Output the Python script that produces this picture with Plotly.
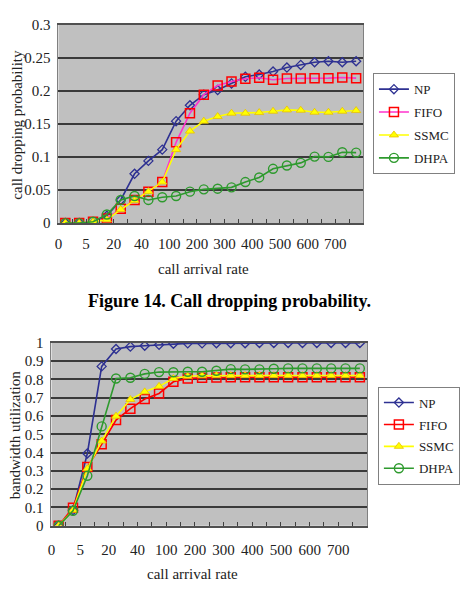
import plotly.graph_objects as go

# ---------------- data ----------------
tick_labels = ["0", "5", "20", "40", "100", "200", "300", "400", "500", "600", "700"]
n_points = 22
slots = [i + 0.5 for i in range(n_points)]  # category centres

drop_np = [0, 0, 0, 0.011, 0.035, 0.0745, 0.094, 0.111, 0.154, 0.178, 0.194, 0.201,
           0.211, 0.221, 0.2245, 0.229, 0.235, 0.239, 0.243, 0.2445, 0.243, 0.2445]
drop_fifo = [0, 0, 0.002, 0.007, 0.0215, 0.035, 0.0475, 0.062, 0.122, 0.166, 0.194, 0.208,
             0.214, 0.218, 0.2195, 0.2165, 0.2185, 0.2185, 0.219, 0.219, 0.220, 0.219]
drop_ssmc = [0, 0, 0.002, 0.005, 0.0205, 0.034, 0.0475, 0.062, 0.111, 0.139, 0.154, 0.161,
             0.166, 0.166, 0.167, 0.169, 0.171, 0.1705, 0.1675, 0.1675, 0.169, 0.170]
drop_dhpa = [0, 0, 0.002, 0.013, 0.035, 0.041, 0.035, 0.039, 0.041, 0.0475, 0.051, 0.052,
             0.054, 0.062, 0.069, 0.082, 0.087, 0.091, 0.1005, 0.100, 0.107, 0.1065]

bw_np = [0, 0.085, 0.395, 0.871, 0.966, 0.979, 0.984, 0.989, 0.995, 0.997, 0.997, 0.998,
         0.998, 0.998, 0.999, 0.999, 0.999, 0.999, 0.999, 0.999, 0.999, 0.999]
bw_fifo = [0, 0.099, 0.321, 0.445, 0.578, 0.640, 0.693, 0.723, 0.787, 0.805, 0.809, 0.811,
           0.812, 0.812, 0.812, 0.812, 0.812, 0.812, 0.812, 0.812, 0.812, 0.812]
bw_ssmc = [0, 0.085, 0.312, 0.463, 0.599, 0.690, 0.732, 0.762, 0.805, 0.817, 0.820, 0.821,
           0.821, 0.821, 0.821, 0.821, 0.821, 0.821, 0.821, 0.821, 0.821, 0.821]
bw_dhpa = [0, 0.082, 0.273, 0.543, 0.805, 0.809, 0.830, 0.840, 0.839, 0.842, 0.842, 0.847,
           0.856, 0.855, 0.855, 0.858, 0.860, 0.860, 0.860, 0.860, 0.860, 0.860]

series_names = ["NP", "FIFO", "SSMC", "DHPA"]

# ---------------- styles ----------------
NAVY = "#2E3192"
RED = "#FF0000"
MAGENTA = "#FF33CC"
YELLOW = "#FFFF00"
GREEN = "#2E9A2E"
SERIF = "Liberation Serif, Times New Roman, serif"

styles_top = {
    "NP": dict(line=dict(color=NAVY, width=1.6),
               marker=dict(symbol="diamond-open", size=7, color=NAVY, line=dict(width=1.3))),
    "FIFO": dict(line=dict(color=MAGENTA, width=1.6),
                 marker=dict(symbol="square-open", size=9, color=RED, line=dict(width=1.5))),
    "SSMC": dict(line=dict(color=YELLOW, width=1.6),
                 marker=dict(symbol="triangle-up", size=8, color=YELLOW, line=dict(color="#E8C000", width=0.8))),
    "DHPA": dict(line=dict(color=GREEN, width=1.6),
                 marker=dict(symbol="circle-open", size=9, color=GREEN, line=dict(width=1.4))),
}
styles_bot = dict(styles_top)
styles_bot["FIFO"] = dict(line=dict(color=RED, width=1.6),
                          marker=dict(symbol="square-open", size=9, color=RED, line=dict(width=1.5)))

fig = go.Figure()

top_data = [drop_np, drop_fifo, drop_ssmc, drop_dhpa]
bot_data = [bw_np, bw_fifo, bw_ssmc, bw_dhpa]

for name, ys in zip(series_names, top_data):
    fig.add_trace(go.Scatter(x=slots, y=ys, name=name, mode="lines+markers",
                             xaxis="x", yaxis="y", legend="legend",
                             legendgroup="t" + name, **styles_top[name]))
for name, ys in zip(series_names, bot_data):
    fig.add_trace(go.Scatter(x=slots, y=ys, name=name, mode="lines+markers",
                             xaxis="x2", yaxis="y2", legend="legend2",
                             legendgroup="b" + name, **styles_bot[name]))

tickfont = dict(family=SERIF, size=15, color="#222222")

def xaxis_cfg(domain, anchor, standoff):
    return dict(
        domain=domain, anchor=anchor, range=[0, n_points],
        tickvals=[2 * i for i in range(len(tick_labels))], ticktext=tick_labels,
        ticks="inside", ticklen=4, tickcolor="#404040",
        minor=dict(ticks="inside", dtick=1, tick0=0, ticklen=4, tickcolor="#404040"),
        showgrid=False, zeroline=False,
        showline=True, linecolor="#505050", linewidth=1.5, mirror=True,
        tickfont=tickfont, ticklabelstandoff=standoff, fixedrange=True,
    )

def yaxis_cfg(domain, anchor, rng, dtick):
    return dict(
        domain=domain, anchor=anchor, range=rng, dtick=dtick, tick0=0,
        showgrid=True, gridcolor="#3A3A3A", gridwidth=1.5,
        zeroline=False, showline=True, linecolor="#808080", linewidth=1, mirror=True,
        ticks="", tickfont=tickfont, ticklabelstandoff=4, fixedrange=True,
    )

W, H = 460, 598
fig.update_layout(
    width=W, height=H, margin=dict(l=0, r=0, t=0, b=0),
    paper_bgcolor="white", plot_bgcolor="#C0C0C0",
    xaxis=xaxis_cfg([55 / W, 363 / W], "y", 6),
    yaxis=yaxis_cfg([1 - 221 / H, 1 - 17 / H], "x", [0, 0.3], 0.05),
    xaxis2=xaxis_cfg([48 / W, 367 / W], "y2", 9),
    yaxis2=yaxis_cfg([1 - 532 / H, 1 - 344 / H], "x2", [0, 1], 0.1),
    legend=dict(x=373 / W, y=1 - 67 / H, xanchor="left", yanchor="top",
                bgcolor="white", bordercolor="#808080", borderwidth=1,
                font=dict(family=SERIF, size=13, color="#222222"),
                tracegroupgap=3, itemwidth=30),
    legend2=dict(x=378 / W, y=1 - 389 / H, xanchor="left", yanchor="top",
                 bgcolor="white", bordercolor="#808080", borderwidth=1,
                 font=dict(family=SERIF, size=13, color="#222222"),
                 tracegroupgap=2, itemwidth=30),
    showlegend=True,
)

titlefont = dict(family=SERIF, size=15, color="#222222")
annotations = [
    dict(text="call dropping probability", x=13 / W, y=1 - 120 / H, textangle=-90, font=titlefont),
    dict(text="call arrival rate", x=202 / W, y=1 - 268 / H, font=titlefont),
    dict(text="<b>Figure 14. Call dropping probability.</b>", x=228 / W, y=1 - 301 / H,
         font=dict(family=SERIF, size=18, color="black")),
    dict(text="bandwidth utilization", x=11 / W, y=1 - 439 / H, textangle=-90, font=titlefont),
    dict(text="call arrival rate", x=191 / W, y=1 - 582 / H, font=titlefont),
]
for a in annotations:
    a.update(xref="paper", yref="paper", showarrow=False, xanchor="center", yanchor="middle")
fig.update_layout(annotations=annotations)

fig.write_html("out.html")
